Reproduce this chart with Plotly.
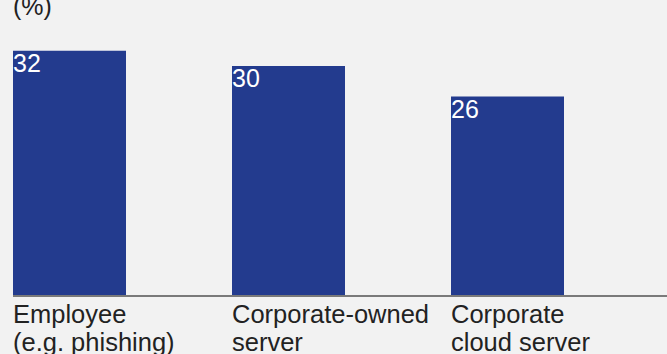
import plotly.graph_objects as go

categories = ["Employee<br>(e.g. phishing)", "Corporate-owned<br>server", "Corporate<br>cloud server"]
values = [32, 30, 26]
value_labels = ["32", "30", "26"]
unit_label = "(%)"

W, H = 667, 354
ML, MR, MT, MB = 13, 0, 20, 59
plot_h = H - MT - MB
half_w = 0.258
BAR = "#233b8e"
BG = "#f2f2f2"
FONT = "Liberation Sans, Arial, Helvetica, sans-serif"
TXT = "#222222"

x = list(range(len(categories)))
fig = go.Figure(go.Bar(x=x, y=values, width=2 * half_w, marker=dict(color=BAR, line=dict(width=0)),
                       hoverinfo="skip"))

ann = []
for i, (v, t) in enumerate(zip(values, value_labels)):
    ann.append(dict(x=i - half_w, y=v, xref="x", yref="y", text=t, showarrow=False,
                    xanchor="left", yanchor="top", xshift=-2, yshift=4,
                    font=dict(family=FONT, size=25, color="white")))
line_shifts = [-2.5, -31]
for i, c in enumerate(categories):
    for ln, part in enumerate(c.split("<br>")):
        ann.append(dict(x=i - half_w, y=0, xref="x", yref="y", text=part, showarrow=False,
                        xanchor="left", yanchor="top", align="left", xshift=-2,
                        yshift=line_shifts[ln],
                        font=dict(family=FONT, size=25.5, color=TXT)))
ann.append(dict(x=0, y=1, xref="paper", yref="paper", text=unit_label, showarrow=False,
                xanchor="left", yanchor="middle", xshift=-2, yshift=14,
                font=dict(family=FONT, size=25, color=TXT)))

span = (W - ML - MR) / 219.0
fig.update_layout(
    width=W, height=H, margin=dict(l=ML, r=MR, t=MT, b=MB),
    paper_bgcolor=BG, plot_bgcolor=BG, showlegend=False,
    annotations=ann,
    xaxis=dict(range=[-half_w, -half_w + span], showgrid=False, zeroline=False,
               showticklabels=False, ticks="", showline=True, linecolor="#7a7a7a", linewidth=1.5),
    yaxis=dict(range=[0, plot_h / 7.63], showgrid=False, zeroline=False,
               showticklabels=False, ticks="", showline=False),
)
fig.write_html("out.html", config={"displayModeBar": False})
